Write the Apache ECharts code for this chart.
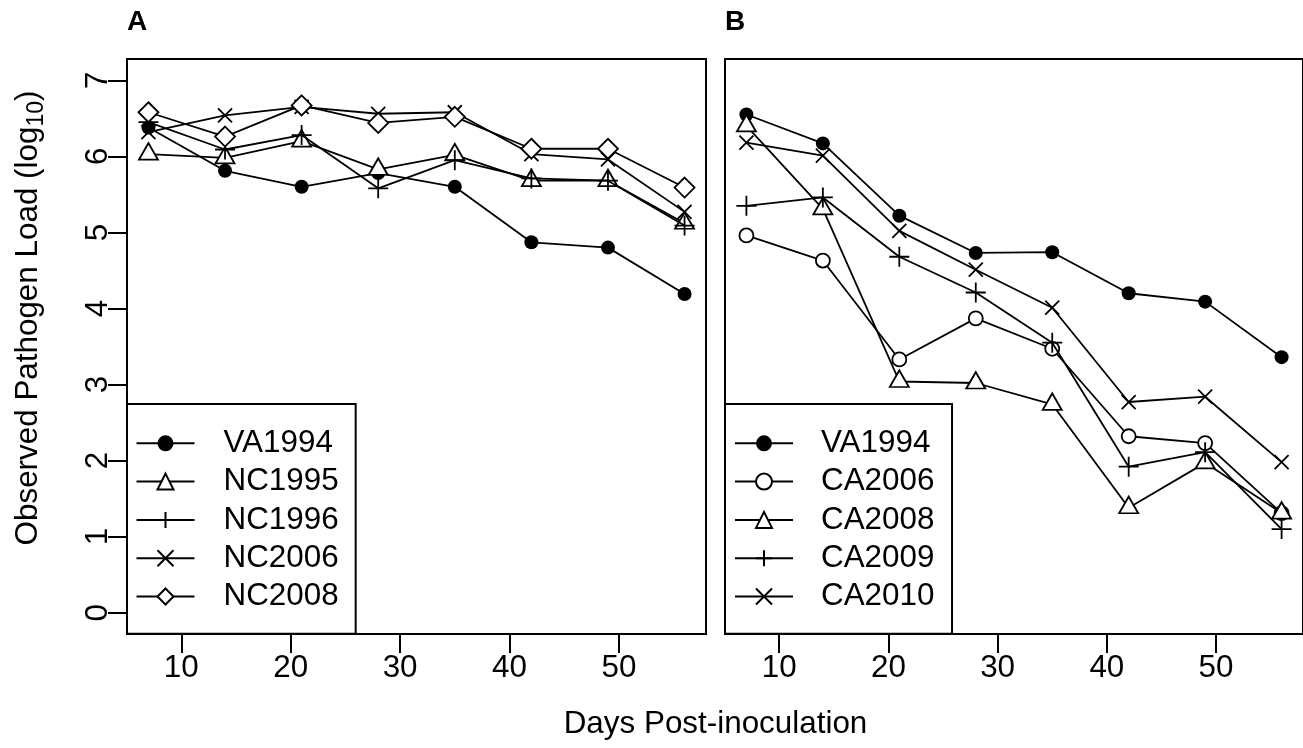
<!DOCTYPE html>
<html>
<head>
<meta charset="utf-8">
<script src="https://cdn.jsdelivr.net/npm/echarts@6/dist/echarts.min.js"></script>
<style>
html,body{margin:0;padding:0;background:#fff;}
#chart{width:1303px;height:748px;}
</style>
</head>
<body>
<div id="chart"></div>
<script>
// ---- data ----
const days = [7, 14, 21, 28, 35, 42, 49, 56];
const xTicks = [10, 20, 30, 40, 50];
const yTicks = [0, 1, 2, 3, 4, 5, 6, 7];

const namesA = ['VA1994', 'NC1995', 'NC1996', 'NC2006', 'NC2008'];
const va1994A = [6.38, 5.81, 5.60, 5.78, 5.60, 4.87, 4.80, 4.19];
const nc1995 = [6.03, 5.98, 6.20, 5.83, 6.02, 5.68, 5.68, 5.12];
const nc1996 = [6.45, 6.09, 6.28, 5.58, 5.95, 5.71, 5.68, 5.09];
const nc2006 = [6.32, 6.54, 6.65, 6.56, 6.58, 6.03, 5.96, 5.27];
const nc2008 = [6.58, 6.26, 6.67, 6.44, 6.52, 6.10, 6.10, 5.59];

const namesB = ['VA1994', 'CA2006', 'CA2008', 'CA2009', 'CA2010'];
const va1994B = [6.55, 6.17, 5.22, 4.73, 4.74, 4.20, 4.09, 3.36];
const ca2006 = [4.96, 4.63, 3.33, 3.87, 3.47, 2.32, 2.23, 1.31];
const ca2008 = [6.40, 5.31, 3.04, 3.02, 2.74, 1.38, 1.97, 1.31];
const ca2009 = [5.35, 5.46, 4.68, 4.21, 3.55, 1.92, 2.11, 1.10];
const ca2010 = [6.18, 6.01, 5.02, 4.51, 4.01, 2.77, 2.84, 1.98];

const valuesA = [va1994A, nc1995, nc1996, nc2006, nc2008];
const valuesB = [va1994B, ca2006, ca2008, ca2009, ca2010];

// ---- styles ----
const FONT = 'Liberation Sans, Arial, sans-serif';
const LW = 1.8;
const sym = {
  filledCircle: { symbol: 'circle', symbolSize: 14, itemStyle: { color: '#000', borderColor: '#000', borderWidth: 0 } },
  openCircle: { symbol: 'circle', symbolSize: 14, itemStyle: { color: '#fff', borderColor: '#000', borderWidth: LW } },
  triangle: { symbol: 'triangle', symbolSize: [19, 16.5], symbolOffset: [0, -2.75], itemStyle: { color: '#fff', borderColor: '#000', borderWidth: LW } },
  plus: { symbol: 'path://M0,-1L0,1M-1,0L1,0', symbolSize: 20, itemStyle: { color: 'none', borderColor: '#000', borderWidth: LW } },
  cross: { symbol: 'path://M-1,-1L1,1M-1,1L1,-1', symbolSize: 14, itemStyle: { color: 'none', borderColor: '#000', borderWidth: LW } },
  diamond: { symbol: 'diamond', symbolSize: 20, itemStyle: { color: '#fff', borderColor: '#000', borderWidth: LW } }
};
const symA = ['filledCircle', 'triangle', 'plus', 'cross', 'diamond'];
const symB = ['filledCircle', 'openCircle', 'triangle', 'plus', 'cross'];

function mkSeries(names, values, symKeys, idx) {
  return names.map((n, i) => Object.assign({
    type: 'line',
    name: n,
    xAxisIndex: idx,
    yAxisIndex: idx,
    data: days.map((d, k) => [d, values[i][k]]),
    lineStyle: { color: '#000', width: LW },
    showAllSymbol: true,
    animation: false,
    silent: true,
    z: 2 + i
  }, sym[symKeys[i]]));
}

function xAxis(idx) {
  return {
    type: 'value', gridIndex: idx, min: 5.04, max: 57.96, position: 'bottom',
    axisLine: { show: false, onZero: false },
    splitLine: { show: false },
    axisTick: { show: true, inside: false, length: 19, customValues: xTicks, lineStyle: { color: '#000', width: 2 } },
    axisLabel: { show: true, customValues: xTicks, margin: 19, color: '#000', fontSize: 31.4, fontFamily: FONT }
  };
}
function yAxis(idx, show) {
  return {
    type: 'value', gridIndex: idx, min: -0.28, max: 7.28, position: 'left',
    axisLine: { show: false, onZero: false },
    splitLine: { show: false },
    axisTick: { show: show, inside: false, length: 19, customValues: yTicks, lineStyle: { color: '#000', width: 2 } },
    axisLabel: { show: show, customValues: yTicks, rotate: 90, margin: 13, color: '#000', fontSize: 31.4, fontFamily: FONT }
  };
}
function legend(names, left, padLeft, padRight, textPad) {
  return {
    orient: 'vertical', left: left, top: 404,
    data: names,
    padding: [23.3, padRight, 21.3, padLeft],
    itemWidth: 58, itemHeight: 20, itemGap: 6.3,
    backgroundColor: '#fff', borderColor: '#000', borderWidth: 2, borderRadius: 0,
    selectedMode: false,
    textStyle: { color: '#000', fontSize: 31.4, fontFamily: FONT, lineHeight: 32, padding: [0, 0, 0, textPad] }
  };
}

const chart = echarts.init(document.getElementById('chart'), null, { renderer: 'canvas' });
chart.setOption({
  animation: false,
  backgroundColor: '#fff',
  textStyle: { fontFamily: FONT },
  grid: [
    { left: 127, top: 59, width: 579, height: 575, show: true, borderColor: '#000', borderWidth: 2, backgroundColor: '#fff' },
    { left: 725, top: 59, width: 579, height: 575, show: true, borderColor: '#000', borderWidth: 2, backgroundColor: '#fff' }
  ],
  xAxis: [xAxis(0), xAxis(1)],
  yAxis: [yAxis(0, true), yAxis(1, false)],
  legend: [legend(namesA, 127, 8.5, 17, 24), legend(namesB, 725, 9, 17.6, 23)],
  series: mkSeries(namesA, valuesA, symA, 0).concat(mkSeries(namesB, valuesB, symB, 1)),
  graphic: [
    { type: 'text', x: 127, y: 22.5, style: { text: 'A', fill: '#000', font: 'bold 28px ' + FONT, align: 'left', verticalAlign: 'middle', textAlign: 'left', textVerticalAlign: 'middle' } },
    { type: 'text', x: 725, y: 22.5, style: { text: 'B', fill: '#000', font: 'bold 28px ' + FONT, align: 'left', verticalAlign: 'middle', textAlign: 'left', textVerticalAlign: 'middle' } },
    { type: 'text', x: 715.5, y: 724, style: { text: 'Days Post-inoculation', fill: '#000', font: '31.4px ' + FONT, align: 'center', verticalAlign: 'middle', textAlign: 'center', textVerticalAlign: 'middle' } },
    { type: 'text', x: 28, y: 318, rotation: Math.PI / 2,
      style: {
        text: '{m|Observed Pathogen Load (log}{s|10}{m|)}',
        fill: '#000', align: 'center', verticalAlign: 'middle', textAlign: 'center', textVerticalAlign: 'middle',
        rich: {
          m: { fontSize: 31.4, fontFamily: FONT, lineHeight: 40, color: '#000' },
          s: { fontSize: 23, fontFamily: FONT, lineHeight: 23, verticalAlign: 'bottom', color: '#000' }
        }
      } }
  ]
});
</script>
</body>
</html>
